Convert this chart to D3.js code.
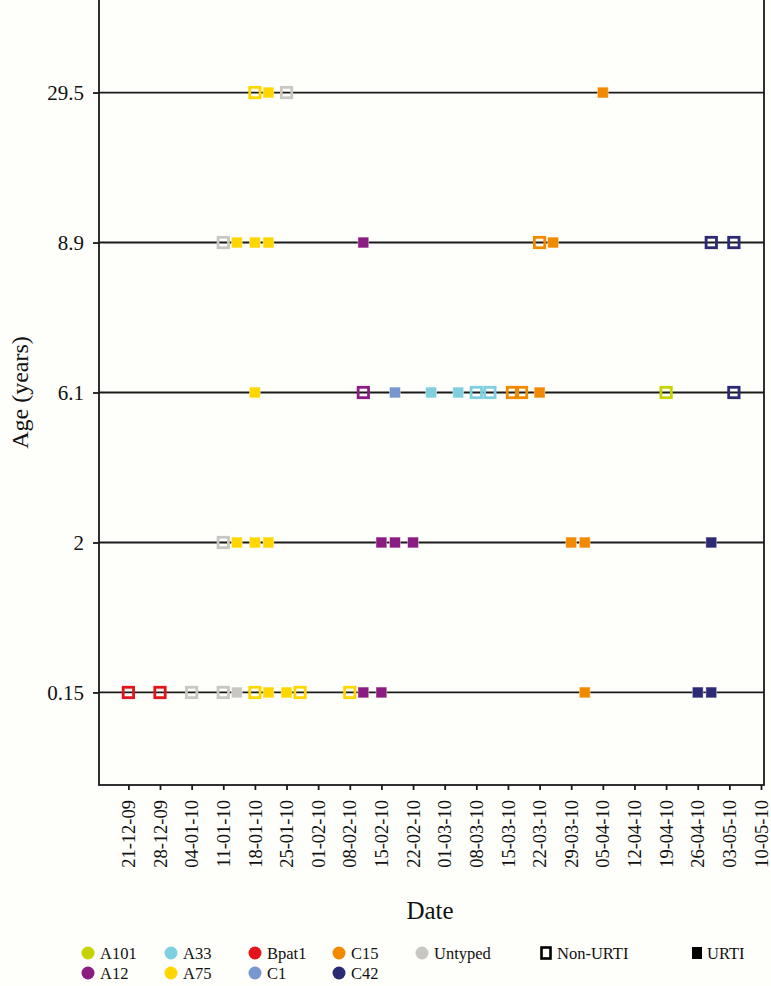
<!DOCTYPE html>
<html>
<head>
<meta charset="utf-8">
<script src="https://cdn.jsdelivr.net/npm/d3@7"></script>
<style>
  html, body { margin: 0; padding: 0; background: #fefefa; }
  svg { display: block; }
  text { font-family: "Liberation Serif", "DejaVu Serif", serif; fill: #111; }
</style>
</head>
<body>
<svg id="chart" width="771" height="986"></svg>
<script>
// ---------- data ----------
const ageGroups = ["0.15", "2", "6.1", "8.9", "29.5"];
const tickLabels = ["21-12-09","28-12-09","04-01-10","11-01-10","18-01-10","25-01-10","01-02-10","08-02-10",
  "15-02-10","22-02-10","01-03-10","08-03-10","15-03-10","22-03-10","29-03-10","05-04-10","12-04-10",
  "19-04-10","26-04-10","03-05-10","10-05-10"];
const genotypes = ["A101", "A12", "A33", "A75", "Bpat1", "C1", "C15", "C42", "Untyped"];
const genotypeColors = ["#c5d300", "#8b1d82", "#7fcfe0", "#ffd600", "#e3141c", "#7896cf", "#f28a00", "#2c2975", "#c9c7c3"];

// observations: date, age group, genotype, URTI (1 = URTI / filled, 0 = Non-URTI / hollow)
const obsDate = [
  "2010-01-18","2010-01-21","2010-01-25","2010-04-05",
  "2010-01-11","2010-01-14","2010-01-18","2010-01-21","2010-02-11","2010-03-22","2010-03-25","2010-04-29","2010-05-04",
  "2010-01-18","2010-02-11","2010-02-18","2010-02-26","2010-03-04","2010-03-08","2010-03-11","2010-03-16","2010-03-18","2010-03-22","2010-04-19","2010-05-04",
  "2010-01-11","2010-01-14","2010-01-18","2010-01-21","2010-02-15","2010-02-18","2010-02-22","2010-03-29","2010-04-01","2010-04-29",
  "2009-12-21","2009-12-28","2010-01-04","2010-01-11","2010-01-14","2010-01-18","2010-01-21","2010-01-25","2010-01-28","2010-02-08","2010-02-11","2010-02-15","2010-04-01","2010-04-26","2010-04-29"
];
const obsAge = [
  "29.5","29.5","29.5","29.5",
  "8.9","8.9","8.9","8.9","8.9","8.9","8.9","8.9","8.9",
  "6.1","6.1","6.1","6.1","6.1","6.1","6.1","6.1","6.1","6.1","6.1","6.1",
  "2","2","2","2","2","2","2","2","2","2",
  "0.15","0.15","0.15","0.15","0.15","0.15","0.15","0.15","0.15","0.15","0.15","0.15","0.15","0.15","0.15"
];
const obsType = [
  "A75","A75","Untyped","C15",
  "Untyped","A75","A75","A75","A12","C15","C15","C42","C42",
  "A75","A12","C1","A33","A33","A33","A33","C15","C15","C15","A101","C42",
  "Untyped","A75","A75","A75","A12","A12","A12","C15","C15","C42",
  "Bpat1","Bpat1","Untyped","Untyped","Untyped","A75","A75","A75","A75","A75","A12","A12","C15","C42","C42"
];
const obsURTI = [
  0,1,0,1,
  0,1,1,1,1,0,1,0,0,
  1,0,1,1,1,0,0,0,0,1,0,0,
  0,1,1,1,1,1,1,1,1,1,
  0,0,0,0,1,0,1,1,0,0,1,1,1,1,1
];

// ---------- layout ----------
const svg = d3.select("#chart");
const plot = { left: 99, right: 764, top: 0, bottom: 785 };

const parseDay = d3.utcParse("%Y-%m-%d");
const parseTick = d3.utcParse("%d-%m-%y");

const x = d3.scaleUtc()
  .domain([Date.UTC(2009, 11, 14, 12), Date.UTC(2010, 4, 10, 16)])
  .range([plot.left, plot.right]);

const y = d3.scalePoint()
  .domain(ageGroups)
  .range([plot.bottom, plot.top])
  .padding(0.617);

const color = d3.scaleOrdinal().domain(genotypes).range(genotypeColors);

// horizontal reference lines
svg.append("g").selectAll("line").data(ageGroups).join("line")
  .attr("x1", plot.left).attr("x2", plot.right)
  .attr("y1", d => y(d)).attr("y2", d => y(d))
  .attr("stroke", "#1a1a1a").attr("stroke-width", 1.8);

// frame
svg.append("rect")
  .attr("x", plot.left).attr("y", plot.top - 2)
  .attr("width", plot.right - plot.left).attr("height", plot.bottom - plot.top + 2)
  .attr("fill", "none").attr("stroke", "#1a1a1a").attr("stroke-width", 1.8);

// y axis
const yAxis = svg.append("g")
  .attr("transform", `translate(${plot.left},0)`)
  .call(d3.axisLeft(y).tickSize(6).tickPadding(9));
yAxis.select(".domain").remove();
yAxis.selectAll("line").attr("stroke", "#1a1a1a").attr("stroke-width", 1.8);
yAxis.selectAll("text").style("font-size", "21px").style("font-family", "Liberation Serif, serif").attr("fill", "#111");

// x axis
const tickDates = tickLabels.map(parseTick);
const xAxis = svg.append("g")
  .attr("transform", `translate(0,${plot.bottom})`)
  .call(d3.axisBottom(x).tickValues(tickDates).tickSize(5).tickFormat((d, i) => tickLabels[i]));
xAxis.select(".domain").remove();
xAxis.selectAll("line").attr("stroke", "#1a1a1a").attr("stroke-width", 1.8);
xAxis.selectAll("text")
  .style("font-size", "18.5px").style("font-family", "Liberation Serif, serif").attr("fill", "#111")
  .attr("text-anchor", "end")
  .attr("transform", "rotate(-90)")
  .attr("x", -15).attr("y", 0).attr("dy", "0.33em");

// axis titles
svg.append("text")
  .attr("transform", `translate(20,${(plot.top + plot.bottom) / 2}) rotate(-90)`)
  .attr("text-anchor", "middle").attr("dy", "0.35em")
  .style("font-size", "24px").text("Age (years)");
svg.append("text")
  .attr("x", 430).attr("y", 919)
  .attr("text-anchor", "middle")
  .style("font-size", "25px").text("Date");

// markers
const obs = obsDate.map((d, i) => ({ date: parseDay(d), age: obsAge[i], type: obsType[i], urti: obsURTI[i] }));
const filledSize = 10.8, hollowSize = 10.4;
svg.append("g").selectAll("rect").data(obs).join("rect")
  .attr("x", d => x(d.date) - (d.urti ? filledSize : hollowSize) / 2)
  .attr("y", d => y(d.age) - (d.urti ? filledSize : hollowSize) / 2)
  .attr("width", d => d.urti ? filledSize : hollowSize)
  .attr("height", d => d.urti ? filledSize : hollowSize)
  .attr("fill", d => d.urti ? color(d.type) : "none")
  .attr("stroke", d => d.urti ? "#ffffff" : color(d.type))
  .attr("stroke-opacity", d => d.urti ? 0.5 : 1)
  .attr("stroke-width", d => d.urti ? 0.8 : 2.8);

// legend
const legendRow1 = ["A101", "A33", "Bpat1", "C15", "Untyped"];
const legendRow2 = ["A12", "A75", "C1", "C42"];
const legendX = [88, 171, 255, 339, 422];
const legendY = [953, 973];
const lg = svg.append("g");
[legendRow1, legendRow2].forEach((row, r) => {
  row.forEach((name, i) => {
    lg.append("circle").attr("cx", legendX[i]).attr("cy", legendY[r]).attr("r", 6.5).attr("fill", color(name));
    lg.append("text").attr("x", legendX[i] + 12).attr("y", legendY[r]).attr("dy", "0.35em")
      .style("font-size", "16.5px").text(name);
  });
});
lg.append("rect").attr("x", 541.5).attr("y", legendY[0] - 5.5).attr("width", 9).attr("height", 11)
  .attr("fill", "none").attr("stroke", "#000").attr("stroke-width", 2.6);
lg.append("text").attr("x", 557).attr("y", legendY[0]).attr("dy", "0.35em").style("font-size", "16.5px").text("Non-URTI");
lg.append("rect").attr("x", 692).attr("y", legendY[0] - 6).attr("width", 10).attr("height", 12).attr("fill", "#000");
lg.append("text").attr("x", 707).attr("y", legendY[0]).attr("dy", "0.35em").style("font-size", "16.5px").text("URTI");
</script>
</body>
</html>
